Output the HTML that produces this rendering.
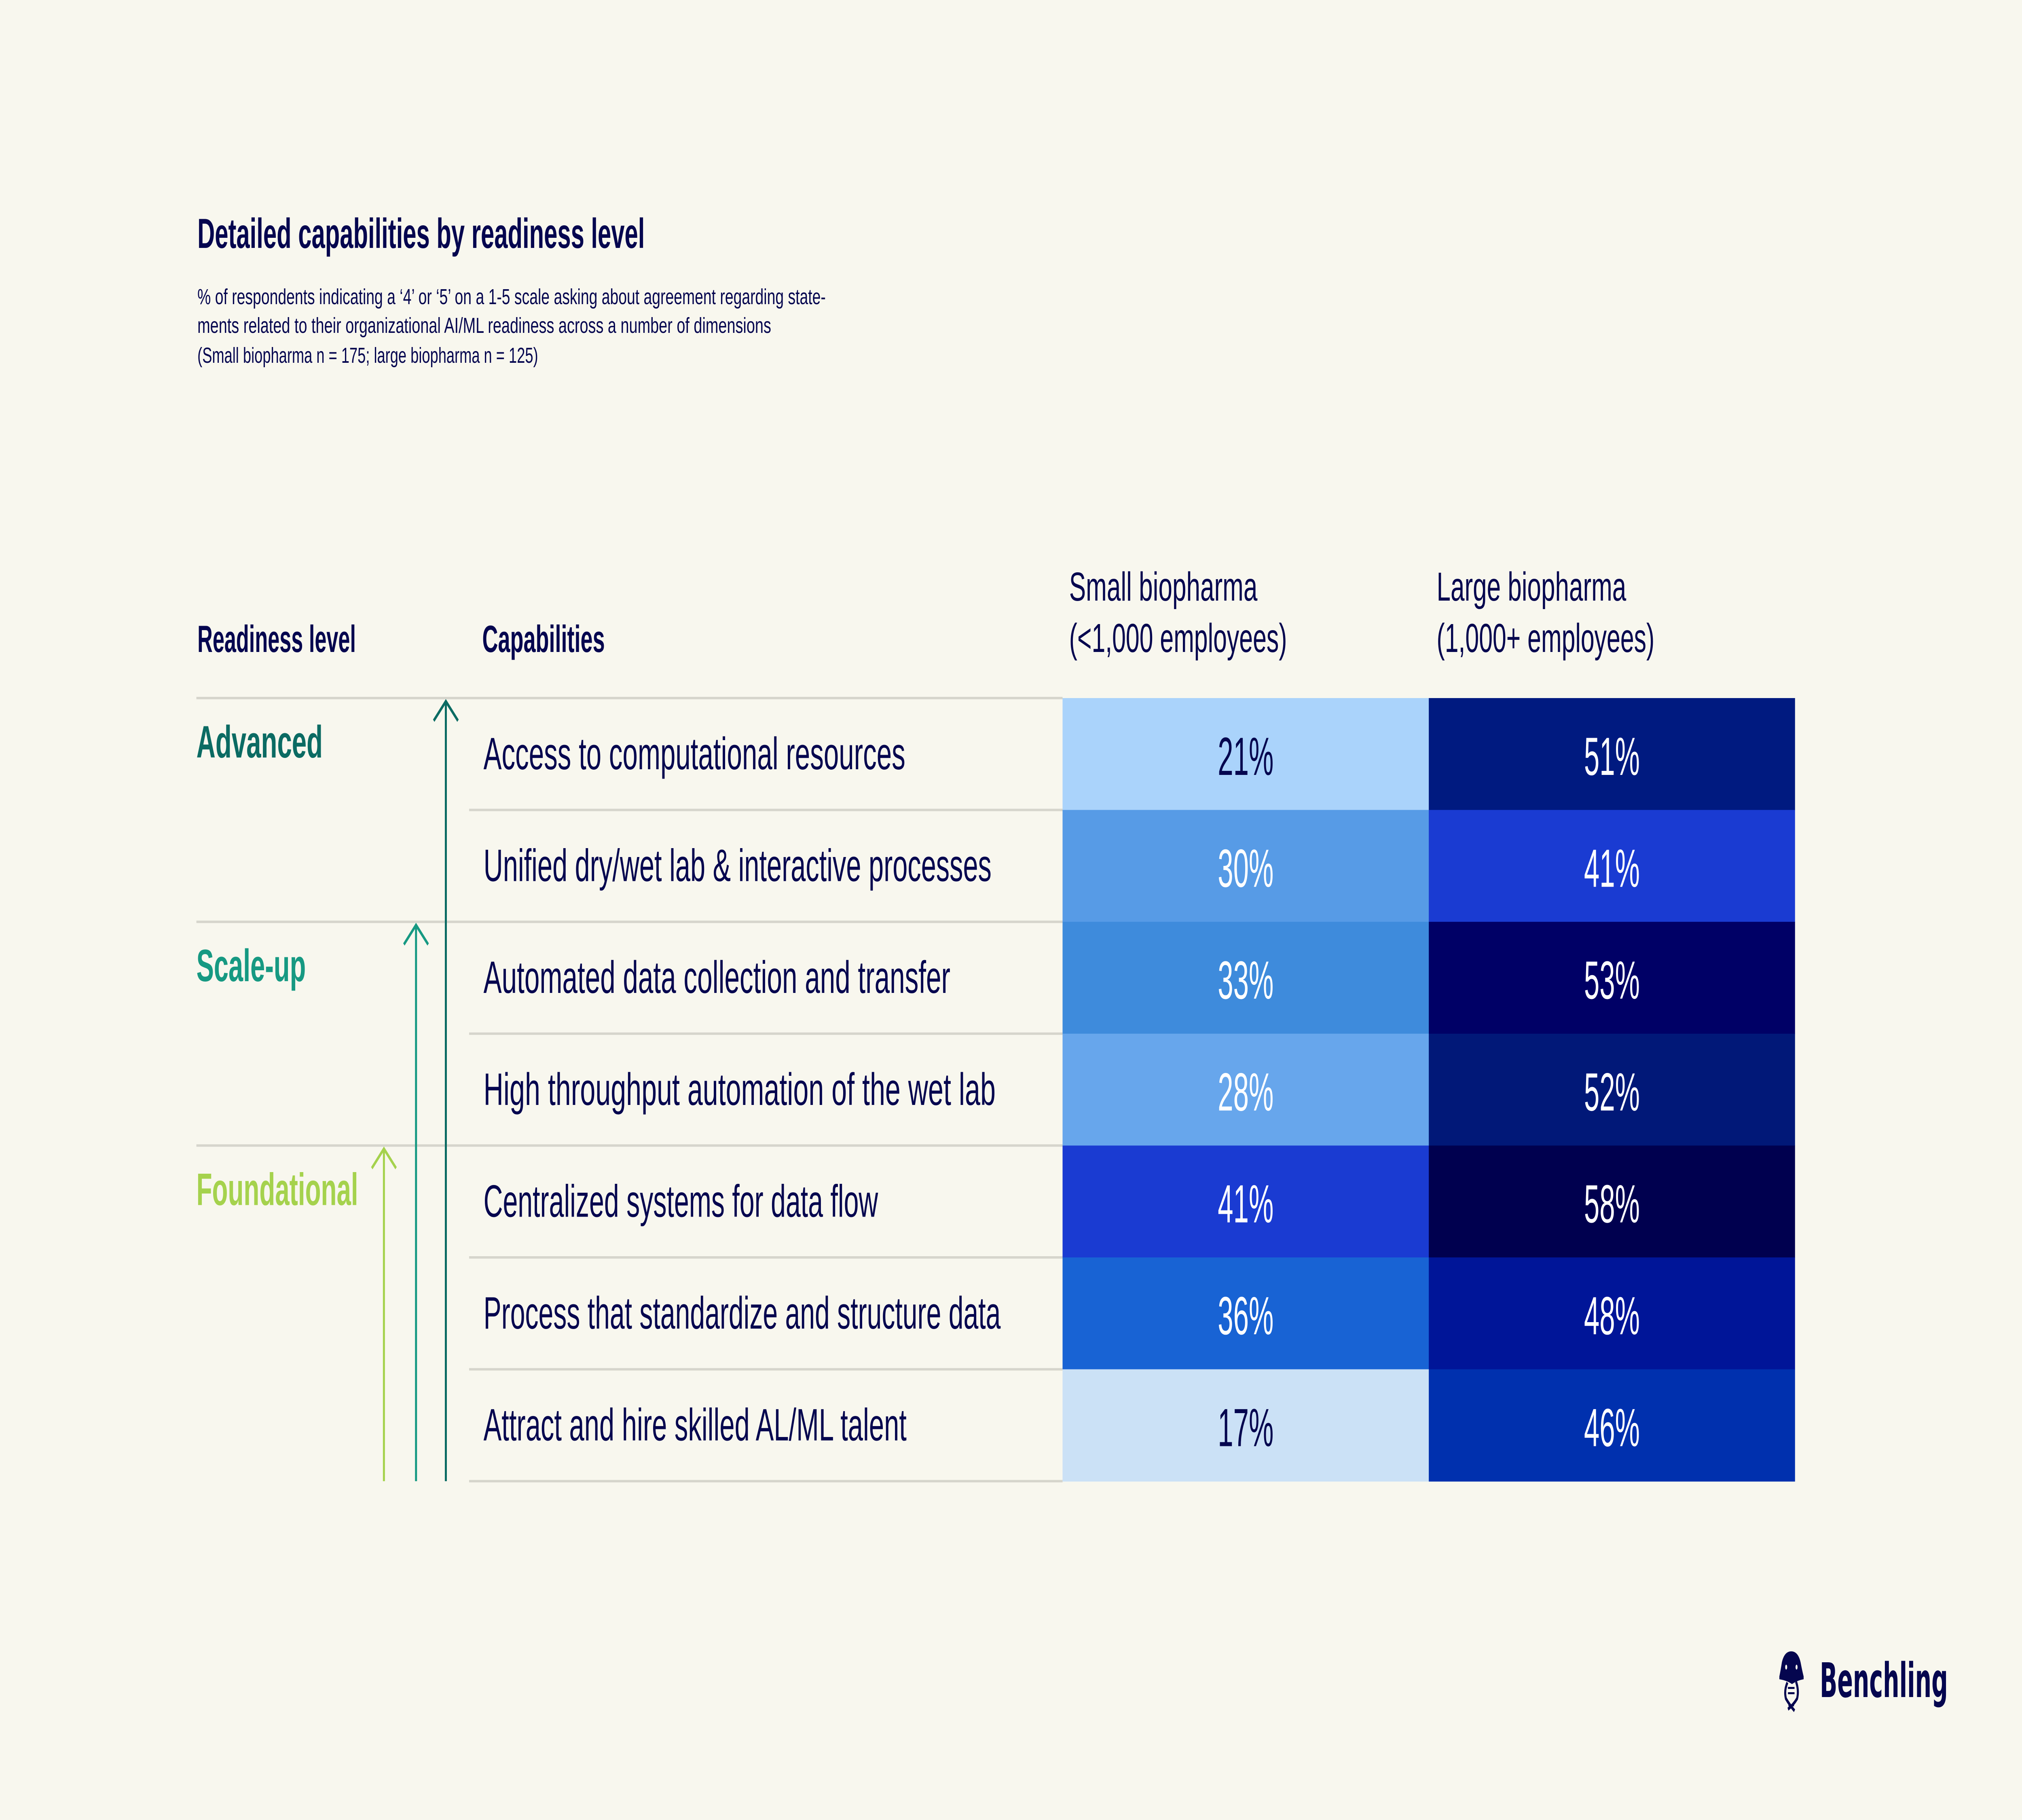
<!DOCTYPE html>
<html><head><meta charset="utf-8"><style>
html,body{margin:0;padding:0;background:#f8f7ee;width:100%;height:100%;overflow:hidden;}
svg{display:block;font-family:"Liberation Sans",sans-serif;width:100vw;height:100vh;}
</style></head><body>
<svg id="chart" viewBox="0 0 8000 4500" preserveAspectRatio="none" xmlns="http://www.w3.org/2000/svg">
<rect width="8000" height="4500" fill="#f8f7ee"/>
<text x="781" y="613" font-size="104" font-weight="bold" fill="#05064f" textLength="1770" lengthAdjust="spacingAndGlyphs">Detailed capabilities by readiness level</text>
<g font-size="54" fill="#05064f">
<text x="781" y="752" textLength="2486" lengthAdjust="spacingAndGlyphs">% of respondents indicating a ‘4’ or ‘5’ on a 1-5 scale asking about agreement regarding state-</text>
<text x="781" y="823" textLength="2270" lengthAdjust="spacingAndGlyphs">ments related to their organizational AI/ML readiness across a number of dimensions</text>
<text x="781" y="897" textLength="1348" lengthAdjust="spacingAndGlyphs">(Small biopharma n = 175; large biopharma n = 125)</text>
</g>
<text x="781" y="1612" font-size="94" font-weight="bold" fill="#05064f" textLength="627" lengthAdjust="spacingAndGlyphs">Readiness level</text>
<text x="1908" y="1612" font-size="94" font-weight="bold" fill="#05064f" textLength="485" lengthAdjust="spacingAndGlyphs">Capabilities</text>
<g font-size="100" fill="#05064f">
<text x="4230" y="1485" textLength="745" lengthAdjust="spacingAndGlyphs">Small biopharma</text>
<text x="4230" y="1612" textLength="862" lengthAdjust="spacingAndGlyphs">(&lt;1,000 employees)</text>
</g>
<g font-size="100" fill="#05064f">
<text x="5684" y="1485" textLength="750" lengthAdjust="spacingAndGlyphs">Large biopharma</text>
<text x="5684" y="1612" textLength="862" lengthAdjust="spacingAndGlyphs">(1,000+ employees)</text>
</g>
<g id="grid"></g>
<g id="arrows"></g>
<g id="cells"></g>
<g id="labels"></g>
<g>
<path d="M7040 4145 Q7045 4130 7050 4110 Q7060 4083 7087 4083 Q7114 4083 7124 4110 Q7130 4130 7136 4145 L7136 4152 Q7110 4155 7090 4164 Q7070 4155 7040 4152 Z" fill="#05064f"/>
<path d="M7072 4160 Q7058 4180 7066 4200 Q7080 4215 7100 4230 M7106 4158 Q7118 4180 7110 4200 Q7096 4215 7074 4226" stroke="#05064f" stroke-width="8" fill="none"/>
<rect x="7074" y="4171" width="26" height="5" fill="#05064f"/><rect x="7074" y="4184" width="26" height="5" fill="#05064f"/><rect x="7076" y="4214" width="22" height="5" fill="#05064f"/>
<ellipse cx="7067" cy="4122" rx="4" ry="6" fill="#f8f7ee"/><ellipse cx="7108" cy="4122" rx="4" ry="6" fill="#f8f7ee"/>
<text x="7200" y="4196" font-family="DejaVu Sans, sans-serif" font-size="118" font-weight="bold" fill="#05064f" textLength="507" lengthAdjust="spacingAndGlyphs">Benchling</text>
</g>
</svg>
<script>
const capabilities = ["Access to computational resources","Unified dry/wet lab & interactive processes","Automated data collection and transfer","High throughput automation of the wet lab","Centralized systems for data flow","Process that standardize and structure data","Attract and hire skilled AL/ML talent"];
const smallValues = [21,30,33,28,41,36,17];
const largeValues = [51,41,53,52,58,48,46];
const levels = ["Advanced","Scale-up","Foundational"];
const levelStartRow = [0,2,4];

const NS="http://www.w3.org/2000/svg";
const top0=1726, rowH=276.6, colX=[4204,5653], colW=1449;
const capWidths=[1669,2010,1847,2026,1561,2046,1674];
const levelColors=["#0b6b63","#169982","#a5d24d"];
const levelWidths=[500,433,640];
const arrowX=[1764,1646,1519];
function rowY(i){return top0+i*rowH;}
function lerp(a,b,t){return a+(b-a)*t;}
function hex(c){return [parseInt(c.slice(1,3),16),parseInt(c.slice(3,5),16),parseInt(c.slice(5,7),16)];}
const stops=[[15,"#dce8f4"],[21,"#aad3fb"],[28,"#67a6ec"],[33,"#3e8bdc"],[36,"#1863d4"],[41,"#1a3bd2"],[46,"#0030ae"],[48,"#001598"],[51,"#001a80"],[52,"#011878"],[53,"#000066"],[58,"#00004f"],[65,"#00003a"]];
function colorFor(v){
  for(let i=0;i<stops.length-1;i++){
    if(v<=stops[i+1][0]){const t=(v-stops[i][0])/(stops[i+1][0]-stops[i][0]);const a=hex(stops[i][1]),b=hex(stops[i+1][1]);
      return "rgb("+a.map((x,k)=>Math.round(lerp(x,b[k],Math.max(0,t)))).join(",")+")";}
  }
  return stops[stops.length-1][1];
}
function mk(tag,attrs,parent){const e=document.createElementNS(NS,tag);for(const k in attrs)e.setAttribute(k,attrs[k]);parent.appendChild(e);return e;}
const grid=document.getElementById("grid"),cells=document.getElementById("cells"),labels=document.getElementById("labels"),arrows=document.getElementById("arrows");
for(let i=0;i<=capabilities.length;i++){
  const full=levelStartRow.includes(i);
  const l=mk("line",{x1:full?777:1856,x2:4204,y1:rowY(i),y2:rowY(i),stroke:"#d6d5cc","stroke-width":6},grid);
  
  
}
capabilities.forEach((c,i)=>{
  const t=mk("text",{x:1913,y:rowY(i)+176,"font-size":112,fill:"#05064f",textLength:capWidths[i],lengthAdjust:"spacingAndGlyphs"},labels);
  t.textContent=c;
  
  
  [smallValues,largeValues].forEach((arr,j)=>{
    const v=arr[i];
    const r=mk("rect",{x:colX[j],y:rowY(i),width:colW+(j==0?1:0),height:rowH+1,fill:colorFor(v)},cells);
    
    
    const tx=mk("text",{x:colX[j]+colW/2,y:rowY(i)+190,"font-size":133,"text-anchor":"middle",fill:v<25?"#05064f":"#ffffff"},cells);
    tx.textContent=v+"%";
    
    
  });
});
document.querySelectorAll("#cells text").forEach(t=>{const w=t.getComputedTextLength();t.setAttribute("textLength",w*0.83);t.setAttribute("lengthAdjust","spacingAndGlyphs");});
levels.forEach((lv,k)=>{
  const y0=rowY(levelStartRow[k]);
  const t=mk("text",{x:777,y:y0+147,"font-size":112,"font-weight":"bold",fill:levelColors[k],textLength:levelWidths[k],lengthAdjust:"spacingAndGlyphs"},labels);
  t.textContent=lv;
  
  
  const ax=arrowX[k],at=y0+8,ab=rowY(capabilities.length);
  const p=mk("path",{d:`M${ax} ${ab} L${ax} ${at} M${ax-48} ${at+48} L${ax} ${at} L${ax+48} ${at+48}`,stroke:levelColors[k],"stroke-width":8,fill:"none"},arrows);
  
  
});
</script>
</body></html>
